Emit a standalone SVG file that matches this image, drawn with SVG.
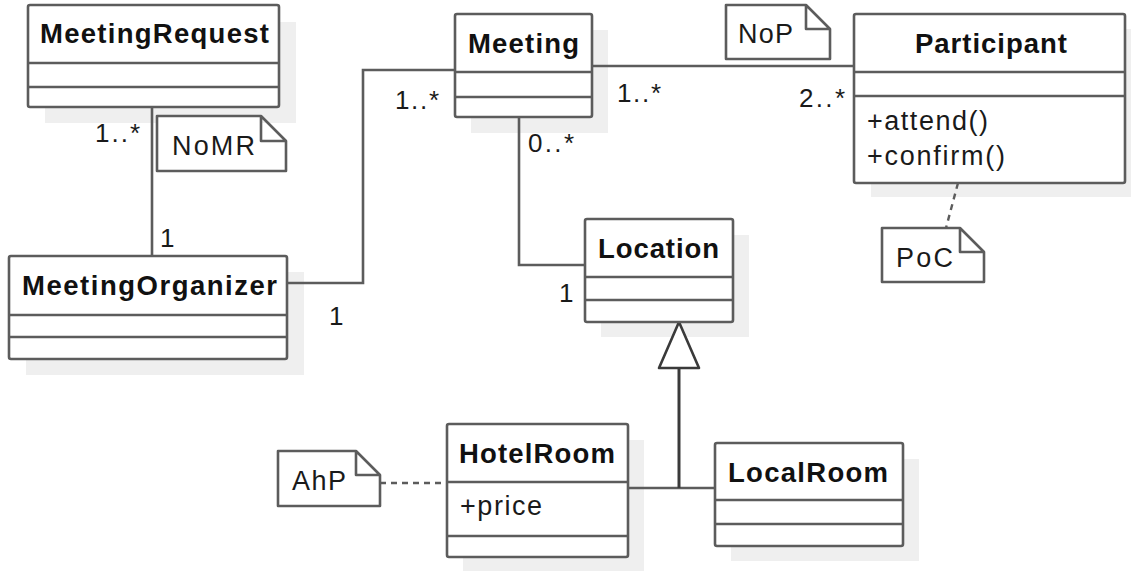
<svg xmlns="http://www.w3.org/2000/svg" width="1131" height="571" viewBox="0 0 1131 571">
  <style>
    .shadow { fill: #efefef; stroke: none; }
    .box { fill: #ffffff; stroke: #5c5c5c; stroke-width: 2.6; }
    .sep { stroke: #5c5c5c; stroke-width: 2.6; }
    .name { font-family: "Liberation Sans", Arial, sans-serif; font-weight: bold; font-size: 27.5px; fill: #111111; }
    .member { font-family: "Liberation Sans", Arial, sans-serif; font-size: 27px; fill: #1a1a1a; }
    .mult { font-family: "Liberation Sans", Arial, sans-serif; font-size: 26px; fill: #1a1a1a; }
    .note { fill: #ffffff; stroke: #5c5c5c; stroke-width: 2.6; stroke-linejoin: round; }
    .line { fill: none; stroke: #5c5c5c; stroke-width: 2.6; }
    .gen { fill: none; stroke: #3a3a3a; stroke-width: 3; }
    .dash { fill: none; stroke: #5c5c5c; stroke-width: 2.4; stroke-dasharray: 6 5; }
  </style>

  <!-- drop shadows behind the classes -->
  <g id="shadows">
    <rect class="shadow" x="45" y="22" width="251" height="101"/>
    <rect class="shadow" x="26" y="272" width="278" height="103"/>
    <rect class="shadow" x="471" y="30" width="137" height="103"/>
    <rect class="shadow" x="871" y="29" width="271" height="168"/>
    <rect class="shadow" x="601" y="235" width="148" height="102"/>
    <rect class="shadow" x="463" y="440" width="181" height="131"/>
    <rect class="shadow" x="731" y="459" width="188" height="102"/>
  </g>

  <!-- associations, generalization and note links -->
  <g id="connectors">
    <line class="line" x1="152" y1="107" x2="152" y2="256"/>
    <polyline class="line" points="287,283 363,283 363,70 455,70"/>
    <polyline class="line" points="519,117 519,265 585,265"/>
    <line class="line" x1="592" y1="66" x2="854" y2="66"/>
    <line class="line" x1="628" y1="488" x2="715" y2="488"/>
    <line class="gen" x1="679" y1="368" x2="679" y2="488"/>
    <polygon points="679,322 659,368 699,368" fill="#ffffff" stroke="#3a3a3a" stroke-width="2.6" stroke-linejoin="round"/>
    <line class="dash" x1="958" y1="183" x2="946" y2="228"/>
    <line class="dash" x1="380" y1="483" x2="447" y2="483"/>

    <text class="mult" x="95" y="142" textLength="45">1..*</text>
    <text class="mult" x="160" y="247">1</text>
    <text class="mult" x="329" y="325">1</text>
    <text class="mult" x="395" y="109" textLength="44">1..*</text>
    <text class="mult" x="528" y="152" textLength="46">0..*</text>
    <text class="mult" x="617" y="102" textLength="44">1..*</text>
    <text class="mult" x="799" y="107" textLength="46">2..*</text>
    <text class="mult" x="559" y="302">1</text>
  </g>

  <g id="MeetingRequest">
    <rect class="box" x="28" y="5" width="251" height="102" rx="2"/>
    <line class="sep" x1="28" y1="63" x2="279" y2="63"/>
    <line class="sep" x1="28" y1="87" x2="279" y2="87"/>
    <text class="name" x="40" y="43" textLength="229">MeetingRequest</text>
  </g>

  <g id="MeetingOrganizer">
    <rect class="box" x="9" y="256" width="278" height="103" rx="2"/>
    <line class="sep" x1="9" y1="315" x2="287" y2="315"/>
    <line class="sep" x1="9" y1="337" x2="287" y2="337"/>
    <text class="name" x="22" y="295" textLength="255">MeetingOrganizer</text>
  </g>

  <g id="Meeting">
    <rect class="box" x="455" y="14" width="137" height="103" rx="2"/>
    <line class="sep" x1="455" y1="72" x2="592" y2="72"/>
    <line class="sep" x1="455" y1="97" x2="592" y2="97"/>
    <text class="name" x="468" y="53" textLength="111">Meeting</text>
  </g>

  <g id="Participant">
    <rect class="box" x="854" y="14" width="271" height="169" rx="2"/>
    <line class="sep" x1="854" y1="72" x2="1125" y2="72"/>
    <line class="sep" x1="854" y1="96" x2="1125" y2="96"/>
    <text class="name" x="915" y="53" textLength="152">Participant</text>
    <text class="member" x="867" y="130" textLength="121">+attend()</text>
    <text class="member" x="867" y="165" textLength="138">+confirm()</text>
  </g>

  <g id="Location">
    <rect class="box" x="585" y="219" width="148" height="103" rx="2"/>
    <line class="sep" x1="585" y1="277" x2="733" y2="277"/>
    <line class="sep" x1="585" y1="300" x2="733" y2="300"/>
    <text class="name" x="598" y="258" textLength="121">Location</text>
  </g>

  <g id="HotelRoom">
    <rect class="box" x="447" y="424" width="181" height="133" rx="2"/>
    <line class="sep" x1="447" y1="482" x2="628" y2="482"/>
    <line class="sep" x1="447" y1="536" x2="628" y2="536"/>
    <text class="name" x="459" y="463" textLength="156">HotelRoom</text>
    <text class="member" x="460" y="515" textLength="82">+price</text>
  </g>

  <g id="LocalRoom">
    <rect class="box" x="715" y="443" width="188" height="103" rx="2"/>
    <line class="sep" x1="715" y1="500" x2="903" y2="500"/>
    <line class="sep" x1="715" y1="524" x2="903" y2="524"/>
    <text class="name" x="728" y="482" textLength="160">LocalRoom</text>
  </g>

  <g id="NoMR">
    <path class="note" d="M157,116 H261 L286,141 V171 H157 Z M261,116 V141 H286"/>
    <text class="member" x="172" y="155" textLength="83">NoMR</text>
  </g>

  <g id="NoP">
    <path class="note" d="M726,5 H806 L830,29 V59 H726 Z M806,5 V29 H830"/>
    <text class="member" x="738" y="43" textLength="55">NoP</text>
  </g>

  <g id="PoC">
    <path class="note" d="M882,228 H960 L984,252 V282 H882 Z M960,228 V252 H984"/>
    <text class="member" x="896" y="267" textLength="57">PoC</text>
  </g>

  <g id="AhP">
    <path class="note" d="M278,451 H356 L380,475 V506 H278 Z M356,451 V475 H380"/>
    <text class="member" x="292" y="490" textLength="54">AhP</text>
  </g>
</svg>
